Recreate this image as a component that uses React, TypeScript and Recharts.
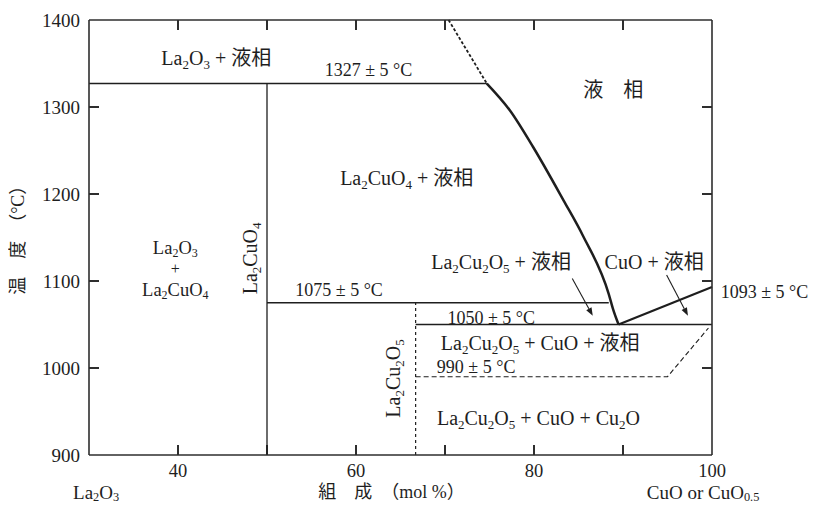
import React from 'react';
import { ComposedChart, Line, XAxis, YAxis, ReferenceDot, ReferenceLine } from 'recharts';

// Axis ticks
const xTicks = [40, 50, 60, 70, 80, 90, 100];
const xTickLabels: Record<number, string> = { 40: '40', 60: '60', 80: '80', 100: '100' };
const yTicks = [900, 1000, 1100, 1200, 1300, 1400];
const innerXTicks = [40, 50, 60, 70, 80, 90];
const innerYTicks = [1000, 1100, 1200, 1300];

// Phase boundaries (x: mol% CuO, t: °C)
const peritectic1327 = [{ x: 30, t: 1327 }, { x: 74.7, t: 1327 }];
const la2cuo4Line = [{ x: 50, t: 900 }, { x: 50, t: 1327 }];
const liquidusUpper = [{ x: 70.4, t: 1400 }, { x: 74.7, t: 1327 }];
const liquidusMain = [
  { x: 74.7, t: 1327 },
  { x: 77.3, t: 1296 },
  { x: 79.9, t: 1254 },
  { x: 83.3, t: 1193 },
  { x: 85.5, t: 1152 },
  { x: 88.4, t: 1085 },
  { x: 88.9, t: 1067 },
  { x: 89.5, t: 1050 },
];
const liquidusCuO = [{ x: 89.5, t: 1050 }, { x: 100, t: 1093 }];
const peritectic1075 = [{ x: 50, t: 1075 }, { x: 88.4, t: 1075 }];
const eutectic1050 = [{ x: 66.7, t: 1050 }, { x: 100, t: 1050 }];
const la2cu2o5Line = [{ x: 66.7, t: 900 }, { x: 66.7, t: 1075 }];
const line990 = [{ x: 66.7, t: 990 }, { x: 95, t: 990 }, { x: 99.6, t: 1046 }];

// Region, temperature and axis labels; _{..} marks a subscript
const labels = [
  { text: 'La_{2}O_{3} + 液相', x: 44.3, t: 1356, kind: 'region' },
  { text: '1327 ± 5 °C', x: 61.4, t: 1342, kind: 'temp' },
  { text: '液　相', x: 88.9, t: 1319, kind: 'region' },
  { text: 'La_{2}CuO_{4} + 液相', x: 65.7, t: 1218, kind: 'region' },
  { text: 'La_{2}O_{3}', x: 39.7, t: 1138, kind: 'stack' },
  { text: '+', x: 39.7, t: 1115, kind: 'plus' },
  { text: 'La_{2}CuO_{4}', x: 39.7, t: 1090, kind: 'stack' },
  { text: 'La_{2}CuO_{4}', x: 48.1, t: 1126, kind: 'region', rotate: true },
  { text: '1075 ± 5 °C', x: 58.1, t: 1090, kind: 'temp' },
  { text: 'La_{2}Cu_{2}O_{5} + 液相', x: 76.3, t: 1122, kind: 'region' },
  { text: 'CuO + 液相', x: 93.5, t: 1122, kind: 'region' },
  { text: '1093 ± 5 °C', x: 105.9, t: 1087, kind: 'temp' },
  { text: '1050 ± 5 °C', x: 75.2, t: 1057, kind: 'temp' },
  { text: 'La_{2}Cu_{2}O_{5} + CuO + 液相', x: 80.7, t: 1029, kind: 'region' },
  { text: '990 ± 5 °C', x: 73.5, t: 1001, kind: 'temp' },
  { text: 'La_{2}Cu_{2}O_{5}', x: 64.2, t: 988, kind: 'region', rotate: true },
  { text: 'La_{2}Cu_{2}O_{5} + CuO + Cu_{2}O', x: 80.5, t: 942, kind: 'region' },
  { text: 'La_{2}O_{3}', x: 30.8, t: 858, kind: 'corner' },
  { text: '組　成　（mol %）', x: 64.0, t: 857, kind: 'axis' },
  { text: 'CuO or CuO_{0.5}', x: 99.0, t: 858, kind: 'corner' },
  { text: '温　度　（°C）', x: 22.0, t: 1152, kind: 'axis', rotate: true },
];

const arrows = [
  { from: { x: 84.3, t: 1103 }, to: { x: 86.6, t: 1060 } },
  { from: { x: 94.9, t: 1107 }, to: { x: 97.3, t: 1060 } },
];

const FONT = '"Liberation Serif", "Times New Roman", Tinos, "Noto Sans CJK JP", serif';
const INK = '#1e1e1e';
const FRAME = '#2e2e2e';
const SIZES: Record<string, number> = { region: 20, temp: 18, axis: 18, stack: 18.5, plus: 16, corner: 19 };
const TICK_LEN = 10;

function RichText({ cx, cy, text, size = 18, rotate = false }: any) {
  const pieces = text.split(/(_\{[^}]*\})/).filter((s: string) => s.length > 0);
  const shift = size * 0.3;
  let inSub = false;
  const spans = pieces.map((p: string, i: number) => {
    if (p.startsWith('_{')) {
      const dy = inSub ? 0 : shift;
      inSub = true;
      return (
        <tspan key={i} fontSize={size * 0.65} dy={dy}>
          {p.slice(2, -1)}
        </tspan>
      );
    }
    const dy = inSub ? -shift : 0;
    inSub = false;
    return (
      <tspan key={i} dy={dy}>
        {p}
      </tspan>
    );
  });
  return (
    <text
      x={cx}
      y={cy}
      textAnchor="middle"
      dominantBaseline="central"
      style={{ fontFamily: FONT }}
      fontSize={size}
      fill={INK}
      transform={rotate ? `rotate(-90 ${cx} ${cy})` : undefined}
    >
      {spans}
    </text>
  );
}

function Arrow({ x1, y1, x2, y2 }: any) {
  const ang = Math.atan2(y2 - y1, x2 - x1);
  const len = 8;
  const w = 3;
  const bx = x2 - len * Math.cos(ang);
  const by = y2 - len * Math.sin(ang);
  const px = -Math.sin(ang) * w;
  const py = Math.cos(ang) * w;
  return (
    <g>
      <line x1={x1} y1={y1} x2={bx} y2={by} stroke={INK} strokeWidth={1.1} />
      <polygon points={`${x2},${y2} ${bx + px},${by + py} ${bx - px},${by - py}`} fill={INK} />
    </g>
  );
}

// Short inward stubs at both ends of a full-height / full-width reference line
function InwardTicks(props: any) {
  const x1 = Number(props.x1);
  const y1 = Number(props.y1);
  const x2 = Number(props.x2);
  const y2 = Number(props.y2);
  const len = Math.hypot(x2 - x1, y2 - y1) || 1;
  const ux = ((x2 - x1) / len) * TICK_LEN;
  const uy = ((y2 - y1) / len) * TICK_LEN;
  const d = `M${x1},${y1}L${x1 + ux},${y1 + uy}M${x2},${y2}L${x2 - ux},${y2 - uy}`;
  return <path d={d} stroke={FRAME} strokeWidth={2} fill="none" />;
}

function BottomTick({ x, y, payload }: any) {
  const label = xTickLabels[payload.value];
  if (!label) return <g />;
  return (
    <text x={x} y={y + 16} textAnchor="middle" dominantBaseline="central" style={{ fontFamily: FONT }} fontSize={18.5} fill={INK}>
      {label}
    </text>
  );
}

function LeftTick({ x, y, payload }: any) {
  return (
    <text x={x - 9} y={y} textAnchor="end" dominantBaseline="central" style={{ fontFamily: FONT }} fontSize={19} fill={INK}>
      {payload.value}
    </text>
  );
}

function NoLabel() {
  return <g />;
}

function seg(data: { x: number; t: number }[], key: string, opts: any = {}) {
  return (
    <Line
      key={key}
      data={data}
      dataKey="t"
      type={opts.type || 'linear'}
      stroke={INK}
      strokeWidth={opts.width || 1.3}
      strokeDasharray={opts.dash}
      dot={false}
      activeDot={false}
      isAnimationActive={false}
    />
  );
}

const axisLine = { stroke: FRAME, strokeWidth: 1.6 };

export default function App() {
  return (
    <ComposedChart width={808} height={499} margin={{ top: 7, right: 99, bottom: 22, left: 21 }}>
      <XAxis
        dataKey="x"
        type="number"
        domain={[30, 100]}
        ticks={xTicks}
        height={30}
        tickSize={0}
        tickMargin={0}
        tickLine={false}
        tick={<BottomTick />}
        axisLine={axisLine}
        interval={0}
      />
      <XAxis
        xAxisId="top"
        orientation="top"
        dataKey="x"
        type="number"
        domain={[30, 100]}
        ticks={innerXTicks}
        height={5}
        tickSize={0}
        tickLine={false}
        tick={<NoLabel />}
        axisLine={axisLine}
      />
      <YAxis
        type="number"
        domain={[900, 1400]}
        ticks={yTicks}
        width={60}
        tickSize={0}
        tickMargin={0}
        tickLine={false}
        tick={<LeftTick />}
        axisLine={axisLine}
        interval={0}
      />
      <YAxis
        yAxisId="right"
        orientation="right"
        type="number"
        domain={[900, 1400]}
        ticks={innerYTicks}
        width={5}
        tickSize={0}
        tickLine={false}
        tick={<NoLabel />}
        axisLine={axisLine}
      />

      {innerXTicks.map((v) => (
        <ReferenceLine
          key={`xt-${v}`}
          segment={[
            { x: v, y: 900 },
            { x: v, y: 1400 },
          ]}
          ifOverflow="visible"
          shape={(p: any) => <InwardTicks {...p} />}
        />
      ))}
      {innerYTicks.map((v) => (
        <ReferenceLine
          key={`yt-${v}`}
          segment={[
            { x: 30, y: v },
            { x: 100, y: v },
          ]}
          ifOverflow="visible"
          shape={(p: any) => <InwardTicks {...p} />}
        />
      ))}

      {seg(peritectic1327, 'p1327')}
      {seg(la2cuo4Line, 'la2cuo4')}
      {seg(liquidusUpper, 'liqUp', { width: 1.8, dash: '3 2' })}
      {seg(liquidusMain, 'liq', { width: 2.5, type: 'monotone' })}
      {seg(liquidusCuO, 'liqCuO', { width: 2.2 })}
      {seg(peritectic1075, 'p1075')}
      {seg(eutectic1050, 'e1050', { width: 1.4 })}
      {seg(la2cu2o5Line, 'la2cu2o5', { width: 1.2, dash: '3 3' })}
      {seg(line990, 'l990', { width: 1.1, dash: '5 3' })}

      {arrows.map((a, i) => (
        <ReferenceLine
          key={`arrow-${i}`}
          segment={[
            { x: a.from.x, y: a.from.t },
            { x: a.to.x, y: a.to.t },
          ]}
          ifOverflow="visible"
          shape={(p: any) => <Arrow {...p} />}
        />
      ))}

      {labels.map((l, i) => (
        <ReferenceDot
          key={`label-${i}`}
          x={l.x}
          y={l.t}
          r={0}
          ifOverflow="visible"
          shape={(p: any) => (
            <RichText cx={p.cx} cy={p.cy} text={l.text} size={SIZES[l.kind]} rotate={l.rotate} />
          )}
        />
      ))}
    </ComposedChart>
  );
}
